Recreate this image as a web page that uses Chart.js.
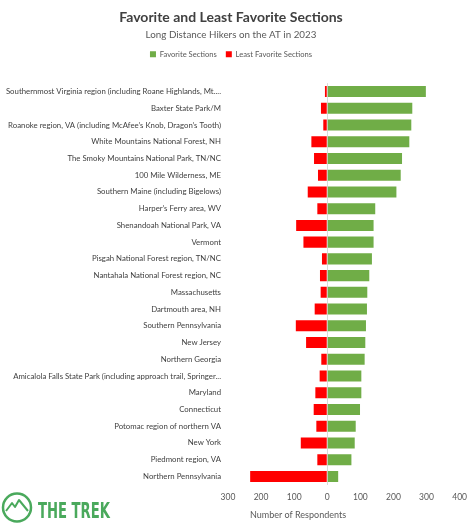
<!DOCTYPE html>
<html>
<head>
<meta charset="utf-8">
<script src="https://cdn.jsdelivr.net/npm/chart.js@4"></script>
<style>
	html, body {margin: 0; padding: 0; background: #fff;}
	#wrap {width: 474px; height: 526px;}
</style>
</head>
<body>
<div id="wrap"><canvas id="canvas"></canvas></div>
<script>
var sections = [
	'Southernmost Virginia region (including Roane Highlands, Mt....',
	'Baxter State Park/M',
	'Roanoke region, VA (including McAfee\u2019s Knob, Dragon\u2019s Tooth)',
	'White Mountains National Forest, NH',
	'The Smoky Mountains National Park, TN/NC',
	'100 Mile Wilderness, ME',
	'Southern Maine (including Bigelows)',
	'Harper\u2019s Ferry area, WV',
	'Shenandoah National Park, VA',
	'Vermont',
	'Pisgah National Forest region, TN/NC',
	'Nantahala National Forest region, NC',
	'Massachusetts',
	'Dartmouth area, NH',
	'Southern Pennsylvania',
	'New Jersey',
	'Northern Georgia',
	'Amicalola Falls State Park (including approach trail, Springer...',
	'Maryland',
	'Connecticut',
	'Potomac region of northern VA',
	'New York',
	'Piedmont region, VA',
	'Northern Pennsylvania'
];
var favorite = [298, 257, 254, 248, 226, 222, 209, 145, 140, 140, 135, 127,
	121, 120, 117, 115, 113, 103, 103, 99, 86, 83, 73, 33];
var leastFavorite = [-7, -19, -12, -48, -40, -28, -59, -30, -94, -72, -16, -22,
	-20, -38, -95, -64, -18, -23, -36, -41, -33, -80, -30, -233];
var axisTitle = 'Number of Respondents';

var fontFamily = 'Lato, "Open Sans", sans-serif';

// extra room under the legend
var legendGap = {
	id: 'legendGap',
	beforeInit: function(chart){
		var fit = chart.legend.fit;
		chart.legend.fit = function(){
			fit.bind(chart.legend)();
			this.height += 15;
		};
	}
};

// axis title sits left of the plot centre, like the original
var axisLabel = {
	id: 'axisLabel',
	afterDraw: function(chart){
		var ctx = chart.ctx;
		ctx.save();
		ctx.fillStyle = '#595959';
		ctx.font = '9px ' + fontFamily;
		ctx.textAlign = 'center';
		ctx.textBaseline = 'middle';
		ctx.fillText(axisTitle, 298, 515);
		ctx.restore();
	}
};

// THE TREK logo, bottom left
var trekLogo = {
	id: 'trekLogo',
	afterDraw: function(chart){
		var ctx = chart.ctx;
		var green = '#4aa95c';
		ctx.save();
		ctx.strokeStyle = green;
		ctx.lineWidth = 2.5;
		ctx.beginPath();
		ctx.arc(17, 507.5, 14, 0, Math.PI * 2);
		ctx.stroke();
		ctx.lineWidth = 2;
		ctx.lineJoin = 'round';
		ctx.beginPath();
		ctx.moveTo(6, 511);
		ctx.lineTo(12, 503);
		ctx.lineTo(15, 507);
		ctx.lineTo(19, 500);
		ctx.lineTo(28, 511);
		ctx.stroke();
		ctx.fillStyle = green;
		ctx.font = 'bold 22px "Liberation Sans Narrow", "DejaVu Sans Condensed", sans-serif';
		ctx.textBaseline = 'alphabetic';
		var w = ctx.measureText('THE TREK').width;
		ctx.translate(38, 518);
		ctx.scale(72 / w, 1);
		ctx.fillText('THE TREK', 0, 0);
		ctx.restore();
	}
};

var config = {
	type: 'bar',
	data: {
		labels: sections,
		datasets: [
			{
				label: 'Favorite Sections',
				data: favorite,
				backgroundColor: '#70ad47',
				borderWidth: 0,
				categoryPercentage: 0.66,
				barPercentage: 1
			},
			{
				label: 'Least Favorite Sections',
				data: leastFavorite,
				backgroundColor: '#ff0000',
				borderWidth: 0,
				categoryPercentage: 0.66,
				barPercentage: 1
			}
		]
	},
	options: {
		indexAxis: 'y',
		responsive: false,
		animation: false,
		layout: {padding: {left: 0, right: 12, top: 0, bottom: 17}},
		plugins: {
			title: {
				display: true,
				text: 'Favorite and Least Favorite Sections',
				color: '#404040',
				font: {family: fontFamily, size: 14, weight: 'bold'},
				padding: {top: 9, bottom: 1}
			},
			subtitle: {
				display: true,
				text: 'Long Distance Hikers on the AT in 2023',
				color: '#595959',
				font: {family: fontFamily, size: 9.8},
				padding: {top: 2, bottom: 1}
			},
			legend: {
				labels: {
					color: '#595959',
					font: {family: fontFamily, size: 7.6},
					boxWidth: 6,
					boxHeight: 6,
					padding: 9
				}
			},
			tooltip: {enabled: false}
		},
		scales: {
			x: {
				stacked: true,
				min: -300,
				max: 400,
				border: {display: false},
				grid: {
					drawTicks: false,
					color: function(c){ return c.tick && c.tick.value === 0 ? '#d9d9d9' : 'rgba(0,0,0,0)'; }
				},
				ticks: {
					stepSize: 100,
					padding: 7,
					color: '#595959',
					font: {family: fontFamily, size: 8.5},
					callback: function(v){ return Math.abs(v); }
				}
			},
			y: {
				stacked: true,
				border: {display: false},
				grid: {display: false, drawTicks: false},
				afterFit: function(scale){ scale.width = 228; },
				ticks: {
					padding: 7,
					autoSkip: false,
					color: '#404040',
					font: {family: fontFamily, size: 7.8}
				}
			}
		}
	},
	plugins: [legendGap, axisLabel, trekLogo]
};

var canvas = document.getElementById('canvas');
canvas.width = 474;
canvas.height = 526;
window.myBar = new Chart(canvas.getContext('2d'), config);
</script>
</body>
</html>
